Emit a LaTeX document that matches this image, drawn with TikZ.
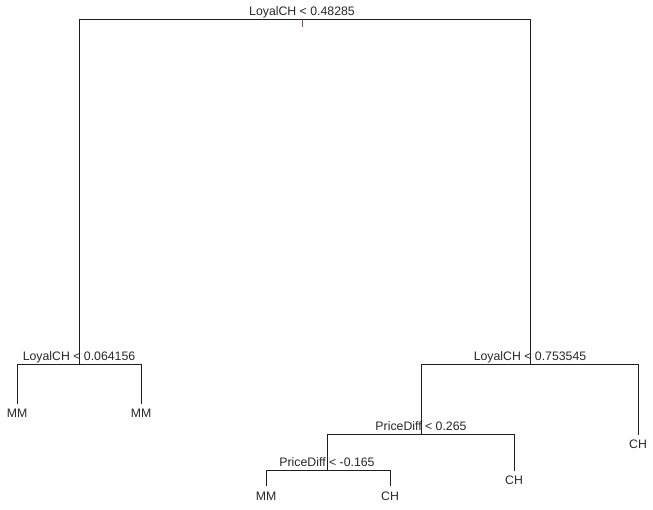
\documentclass[tikz,border=0pt]{standalone}
\usepackage{fontspec}
\setmainfont{Liberation Sans}
\definecolor{edgecol}{RGB}{30,30,30}
\definecolor{tickcol}{RGB}{120,80,120}
\definecolor{txtcol}{RGB}{40,40,40}
\begin{document}
\begin{tikzpicture}[x=1pt,y=-1pt,
  edge/.style={draw=edgecol,line width=0.9pt},
  tickline/.style={draw=tickcol,line width=0.9pt},
  split/.style={anchor=base,inner sep=0pt,text=txtcol,font=\fontsize{12.3}{14}\selectfont},
  leaflab/.style={anchor=base,inner sep=0pt,text=txtcol,font=\fontsize{12.3}{14}\selectfont}]
\useasboundingbox[fill=white] (0,0) rectangle (653,509);
% split points
\coordinate (n1) at (302,19);
\coordinate (n2) at (79,364);
\coordinate (n3) at (530,364);
\coordinate (n6) at (421,434);
\coordinate (n12) at (327,470);
% leaf ends
\coordinate (l4) at (17,404);
\coordinate (l5) at (141,404);
\coordinate (l7) at (638,435);
\coordinate (l13) at (514,471);
\coordinate (l24) at (266,486);
\coordinate (l25) at (390,486);
\coordinate (tick) at (302,27);
% split labels
\node[split] (s1) at (302,15.5) {LoyalCH < 0.48285};
\node[split] (s2) at (79,360.5) {LoyalCH < 0.064156};
\node[split] (s3) at (530,360.5) {LoyalCH < 0.753545};
\node[split] (s6) at (421,430.5) {PriceDiff < 0.265};
\node[split] (s12) at (327,466.5) {PriceDiff < -0.165};
% leaf labels
\node[leaflab] (t4) at (17,417.5) {MM};
\node[leaflab] (t5) at (141,417.5) {MM};
\node[leaflab] (t7) at (638,448.5) {CH};
\node[leaflab] (t13) at (514,484.5) {CH};
\node[leaflab] (t24) at (266,500) {MM};
\node[leaflab] (t25) at (390,500) {CH};
% edges
\draw[edge] (n1) -| (n2);
\draw[edge] (n1) -| (n3);
\draw[edge] (n2) -| (l4);
\draw[edge] (n2) -| (l5);
\draw[edge] (n3) -| (n6);
\draw[edge] (n3) -| (l7);
\draw[edge] (n6) -| (n12);
\draw[edge] (n6) -| (l13);
\draw[edge] (n12) -| (l24);
\draw[edge] (n12) -| (l25);
\draw[tickline] (n1) -- (tick);
\end{tikzpicture}
\end{document}
